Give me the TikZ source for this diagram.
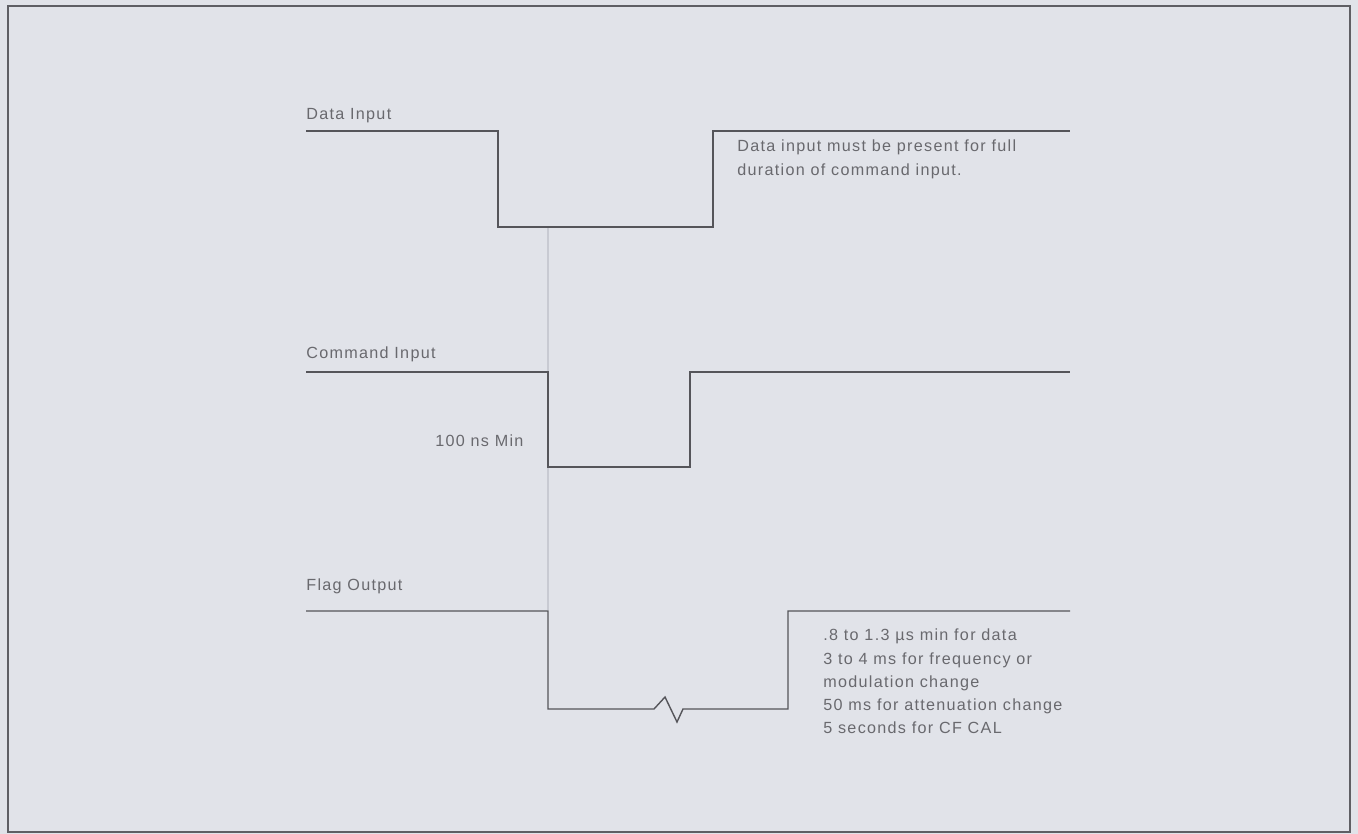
\documentclass[tikz,border=0pt]{standalone}
\usepackage{fontspec}
\setmainfont[LetterSpace=8]{Liberation Sans}
\usetikzlibrary{positioning}
\definecolor{bgcolor}{RGB}{225,227,233}
\definecolor{framecolor}{RGB}{95,95,100}
\definecolor{wavecolor}{RGB}{85,85,90}
\definecolor{guidecolor}{RGB}{200,202,210}
\definecolor{textcolor}{RGB}{105,105,110}

\begin{document}
\begin{tikzpicture}[x=0.02cm, y=-0.02cm]
  \tikzset{
    wave/.style={draw=wavecolor, line width=0.8pt, line join=miter},
    siglabel/.style={
      anchor=base west,
      inner sep=0pt,
      text=textcolor,
      font=\fontsize{9.2}{13.7}\selectfont
    },
    note/.style={siglabel}
  }

  % Background and frame
  \fill[bgcolor] (0,0) rectangle (1358,834);
  \useasboundingbox (0,0) rectangle (1358,834);
  \draw[framecolor, line width=1pt] (8,6) rectangle (1350,832);

  % Guide line (light)
  \draw[guidecolor, line width=0.6pt] (548,228) -- (548,610);

  % Data input
  \node[siglabel] (datalabel) at (306,120) {Data Input};
  \draw[wave] (306,131) -- (498,131) -- (498,227) -- (713,227) -- (713,131) -- (1070,131);
  \node[note] (datanote1) at (737,152) {Data input must be present for full};
  \node[note] (datanote2) at (737,176) {duration of command input.};

  % Command input
  \node[siglabel] (cmdlabel) at (306,358) {Command Input};
  \draw[wave] (306,372) -- (548,372) -- (548,467) -- (690,467) -- (690,372) -- (1070,372);
  \node[siglabel] (minlabel) at (435,446) {100 ns Min};

  % Flag output
  \node[siglabel] (flaglabel) at (306,590) {Flag Output};
  \draw[wave] (306,611) -- (548,611) -- (548,709) -- (654,709) -- (665,697)
    -- (677,722) -- (683,709) -- (788,709) -- (788,611) -- (1070,611);
  \node[note] (flagnote1) at (823,640) {.8 to 1.3 µs min for data};
  \node[note] (flagnote2) at (823,664) {3 to 4 ms for frequency or};
  \node[note] (flagnote3) at (823,687) {modulation change};
  \node[note] (flagnote4) at (823,710) {50 ms for attenuation change};
  \node[note] (flagnote5) at (823,733) {5 seconds for CF CAL};
\end{tikzpicture}
\end{document}
